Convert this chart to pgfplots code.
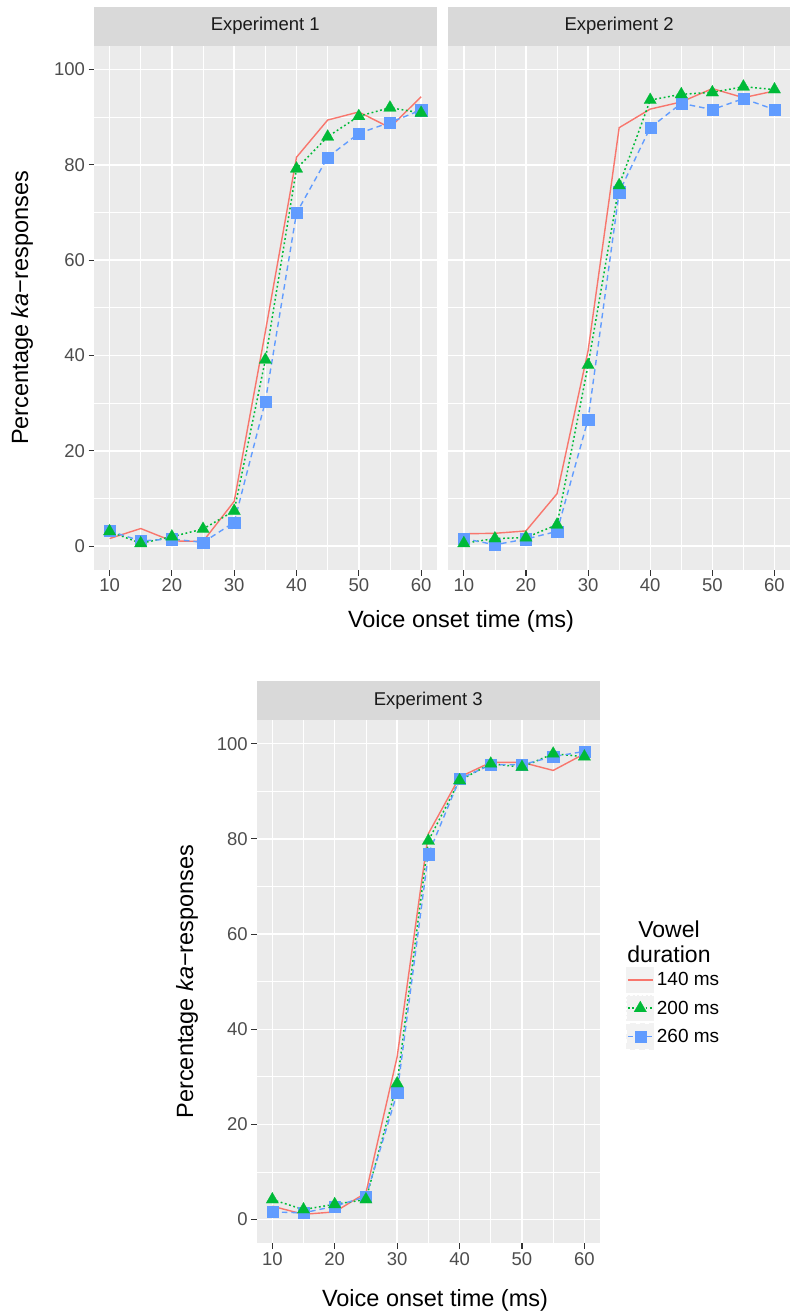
\documentclass[border=0pt]{standalone}
\usepackage{pgfplots}
\pgfplotsset{compat=1.18}
\usepackage{pgfplotstable}
\usepackage{fontspec}
\setmainfont{Liberation Sans}

\definecolor{panelgray}{HTML}{EBEBEB}
\definecolor{stripgray}{HTML}{D9D9D9}
\definecolor{tickgray}{HTML}{333333}
\definecolor{labgray}{HTML}{4D4D4D}
\definecolor{keygray}{HTML}{F2F2F2}
\definecolor{txt}{HTML}{1A1A1A}
\definecolor{cred}{HTML}{F8766D}
\definecolor{cgreen}{HTML}{00BA38}
\definecolor{cblue}{HTML}{619CFF}

% percentage ka-responses per VOT step, for the three vowel durations
% r = 140 ms, g = 200 ms, b = 260 ms
\pgfplotstableread{
vot r g b
10 1.6 3.1 3.2
15 3.7 0.6 1.1
20 1.1 2.0 1.5
25 1.0 3.6 0.8
30 9.4 7.4 5.0
35 45.0 39.1 30.4
40 81.6 79.2 69.9
45 89.4 85.9 81.6
50 91.1 90.2 86.6
55 87.8 92.0 88.9
60 94.3 90.9 91.5
}\expA
\pgfplotstableread{
vot r g b
10 2.6 0.6 1.6
15 2.7 1.6 0.3
20 3.2 1.8 1.5
25 11.0 4.5 3.1
30 41.0 38.0 26.6
35 87.8 75.7 74.3
40 91.7 93.6 87.8
45 93.2 94.8 92.9
50 96.0 95.2 91.6
55 94.1 96.4 93.9
60 95.5 95.8 91.6
}\expB
\pgfplotstableread{
vot r g b
10 2.8 4.2 1.6
15 1.1 2.1 1.4
20 1.6 3.2 2.8
25 5.6 4.2 4.8
30 34.2 28.6 26.6
35 81.1 79.6 76.8
40 93.0 92.3 92.6
45 96.1 95.8 95.6
50 96.1 95.1 95.6
55 94.4 97.9 97.3
60 97.9 97.3 98.4
}\expC

\pgfplotsset{
  gg/.style={
    scale only axis,
    xmin=7.5, xmax=62.5, ymin=-5, ymax=105,
    xtick={10,20,...,60}, ytick={0,20,...,100},
    minor xtick={15,25,...,55}, minor ytick={10,30,...,90},
    grid=both,
    major grid style={white, line width=1.4pt},
    minor grid style={white, line width=0.75pt},
    axis background/.style={fill=panelgray},
    axis line style={draw=none},
    tick align=outside, tick pos=left,
    major tick length=5.5pt, minor tick length=0pt,
    major tick style={tickgray, line width=1.1pt},
    tick label style={font=\fontsize{18.5}{18.5}\selectfont, text=labgray},
    /pgf/number format/assume math mode=true,
    clip=false,
  },
  lnR/.style={cred, line width=1.4pt},
  lnG/.style={cgreen, line width=1.5pt, dash pattern=on 1.8pt off 2.6pt},
  lnB/.style={cblue, line width=1.4pt, dash pattern=on 5.5pt off 4pt},
  mkG/.style={only marks, mark=triangle*, mark size=7.2pt, mark options={solid, fill=cgreen, draw=cgreen, line width=0.2pt}},
  mkB/.style={only marks, mark=square*, mark size=5.6pt, mark options={solid, fill=cblue, draw=cblue, line width=0.2pt}},
}

\newcommand{\series}[1]{%
  \addplot[lnR, forget plot] table[x=vot, y=r] {#1};
  \addplot[lnG, forget plot] table[x=vot, y=g] {#1};
  \addplot[lnB, forget plot] table[x=vot, y=b] {#1};
  \addplot[mkB, forget plot] table[x=vot, y=b] {#1};
  \addplot[mkG, forget plot] table[x=vot, y=g] {#1};
}

\begin{document}
\begin{tikzpicture}
\useasboundingbox (0pt,0pt) rectangle (790pt,-1316pt);

% facet strips
\fill[stripgray] (94pt,-6.7pt) rectangle (436.7pt,-45.7pt);
\fill[stripgray] (448.3pt,-6.7pt) rectangle (790pt,-45.7pt);
\fill[stripgray] (256.7pt,-681pt) rectangle (600pt,-720pt);
\node[text=txt, font=\fontsize{18.5}{18.5}\selectfont] at (265.3pt,-26.2pt) {Experiment 1};
\node[text=txt, font=\fontsize{18.5}{18.5}\selectfont] at (619.1pt,-26.2pt) {Experiment 2};
\node[text=txt, font=\fontsize{18.5}{18.5}\selectfont] at (428.3pt,-700.5pt) {Experiment 3};

\begin{axis}[gg, at={(94pt,-45.7pt)}, anchor=north west, width=342.7pt, height=524.3pt]
\series{\expA}
\end{axis}

\begin{axis}[gg, at={(448.3pt,-45.7pt)}, anchor=north west, width=341.7pt, height=524.3pt,
  yticklabels={}, major y tick style={draw=none}]
\series{\expB}
\end{axis}

\begin{axis}[gg, at={(256.7pt,-720pt)}, anchor=north west, width=343.3pt, height=523.3pt,
  legend image code/.code={
    \fill[keygray] (0pt,-12.5pt) rectangle (26.7pt,12.5pt);
    \draw[mark repeat=2, mark phase=2, #1] plot coordinates {(1pt,0pt) (13.35pt,0pt) (25.7pt,0pt)};
  },
  legend style={at={(1.0757,0.5286)}, anchor=north west, draw=none, fill=none,
    inner sep=0pt, row sep=1.7pt, column sep=2.5pt,
    font=\fontsize{19}{19}\selectfont, nodes={inner sep=0pt}},
  legend cell align=left]
\series{\expC}
\addlegendimage{lnR}
\addlegendentry{140 ms}
\addlegendimage{lnG, mark=triangle*, mark size=7.2pt, mark options={solid, fill=cgreen, draw=cgreen, line width=0.2pt}}
\addlegendentry{200 ms}
\addlegendimage{lnB, mark=square*, mark size=5.6pt, mark options={solid, fill=cblue, draw=cblue, line width=0.2pt}}
\addlegendentry{260 ms}
\end{axis}

% axis titles
\node[font=\fontsize{23.5}{23.5}\selectfont] at (461pt,-621pt) {Voice onset time (ms)};
\node[font=\fontsize{23.5}{23.5}\selectfont] at (435pt,-1300pt) {Voice onset time (ms)};
\node[font=\fontsize{23.5}{23.5}\selectfont, rotate=90] at (22pt,-308pt) {Percentage \textit{ka}−responses};
\node[font=\fontsize{23.5}{23.5}\selectfont, rotate=90] at (187pt,-981.5pt) {Percentage \textit{ka}−responses};
\node[font=\fontsize{23}{25.5}\selectfont, align=center] at (669pt,-942pt) {Vowel\\duration};
\end{tikzpicture}
\end{document}
